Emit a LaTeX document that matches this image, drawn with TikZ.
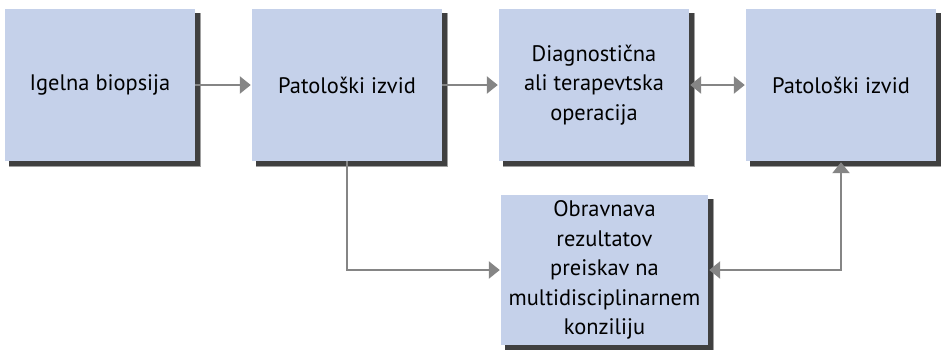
\documentclass[tikz,border=0pt]{standalone}
\usepackage{fontspec}
\setmainfont{PT Sans}
\usetikzlibrary{arrows.meta}
\definecolor{boxfill}{HTML}{C5D1EA}
\definecolor{arrowgray}{HTML}{858585}
\definecolor{shadowc}{HTML}{404040}
\definecolor{shadowsoft}{HTML}{A0A0A0}
\tikzset{
  box/.style={fill=boxfill, draw=none, align=center, inner sep=2bp,
    font=\fontsize{22.5}{29.5}\selectfont},
  softshadow/.style={fill=shadowsoft},
  hardshadow/.style={fill=shadowc},
  tip/.tip={Triangle[width=17bp,length=11bp]},
  conn/.style={draw=arrowgray, line width=2.5bp, -tip, shorten >=1bp},
  dconn/.style={draw=arrowgray, line width=2.5bp, tip-tip, shorten >=1bp, shorten <=1bp}
}
\begin{document}
\begin{tikzpicture}[x=1bp,y=-1bp]
\useasboundingbox (0,0) rectangle (941,350);
% soft shadow edges
\fill[softshadow] (9,13) rectangle (201,167);
\fill[softshadow] (256,13) rectangle (448,167);
\fill[softshadow] (503,13) rectangle (695,167);
\fill[softshadow] (750,13) rectangle (941,167);
\fill[softshadow] (505,199) rectangle (714,350);
% dark shadows
\fill[hardshadow] (9,13) rectangle (199.5,165.5);
\fill[hardshadow] (256,13) rectangle (446.5,165.5);
\fill[hardshadow] (503,13) rectangle (693.5,165.5);
\fill[hardshadow] (750,13) rectangle (940.5,165.5);
\fill[hardshadow] (505,199) rectangle (712.5,349.5);
% boxes
\node[box, minimum width=190bp, minimum height=152bp] (b1) at (100,85) {Igelna biopsija};
\node[box, minimum width=190bp, minimum height=152bp] (b2) at (347,85) {Patološki izvid};
\node[box, minimum width=190bp, minimum height=152bp] (b3) at (594,85) {Diagnostična\\ali terapevtska\\operacija};
\node[box, minimum width=190bp, minimum height=152bp] (b4) at (841,85) {Patološki izvid};
\node[box, minimum width=207bp, minimum height=150bp] (b5) at (604.5,270) {Obravnava\\rezultatov\\preiskav na\\multidisciplinarnem\\konziliju};
\draw[conn] (b1) -- (b2);
\draw[conn] (b2) -- (b3);
\draw[dconn] (b3) -- (b4);
\draw[conn] (b2.south) |- (b5.west);
\draw[dconn] (b5.east) -| (b4.south);
\end{tikzpicture}
\end{document}
